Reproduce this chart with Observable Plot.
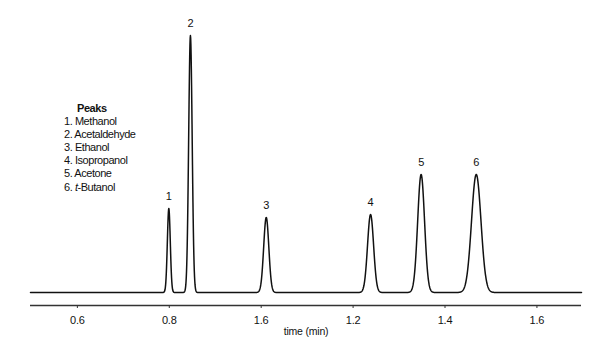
<!DOCTYPE html>
<html><head><meta charset="utf-8">
<script src="https://cdn.jsdelivr.net/npm/d3@7"></script>
<script src="https://cdn.jsdelivr.net/npm/@observablehq/plot@0.6"></script>
<style>
body{margin:0;background:#fff;}
#wrap{position:relative;width:611px;height:360px;font-family:"Liberation Sans Narrow","Arial Narrow","Liberation Sans",Arial,sans-serif;}
#legend{position:absolute;left:64px;top:102px;font-size:11px;line-height:13.1px;color:#111;letter-spacing:-0.45px;}
#legend .title{font-weight:bold;padding-left:13px;}
</style></head><body>
<div id="wrap"><div id="legend"></div></div>
<script>
// Peak data
const peakNumbers = ["1","2","3","4","5","6"];
const peakNames = ["Methanol","Acetaldehyde","Ethanol","Isopropanol","Acetone","t-Butanol"];
const retentionTimes = [0.799, 0.846, 1.011, 1.238, 1.348, 1.468];
const peakHeights = [84, 257, 75, 78, 118, 118];
const peakSigmas = [0.0032, 0.0038, 0.0056, 0.0066, 0.0075, 0.0103];
const tickValues = [0.6, 0.8, 1.0, 1.2, 1.4, 1.6];
const tickLabels = ["0.6", "0.8", "1.6", "1.2", "1.4", "1.6"];
const xLabel = "time (min)";
const legendTitle = "Peaks";
const timeDomain = [0.498, 1.697];
const intensityDomain = [-13, 257];

const fontFamily = '"Liberation Sans Narrow","Arial Narrow","Liberation Sans",Arial,sans-serif';

const peaks = peakNumbers.map((n, i) => ({n, name: peakNames[i], t: retentionTimes[i], h: peakHeights[i], s: peakSigmas[i]}));

// chromatogram trace as the sum of the peaks
const step = 0.0005;
const times = d3.range(timeDomain[0], timeDomain[1] + step / 2, step);
const trace = times.map(t => ({
  t,
  v: peaks.reduce((acc, p) => acc + p.h * Math.exp(-0.5 * ((t - p.t) / p.s) ** 2), 0)
}));

const chart = Plot.plot({
  width: 611,
  height: 360,
  marginLeft: 30,
  marginRight: 30,
  marginTop: 35,
  marginBottom: 55,
  x: {domain: timeDomain},
  y: {domain: intensityDomain, axis: null},
  style: {fontFamily, fontSize: "11px", color: "#111", background: "#fff", letterSpacing: "-0.2px"},
  marks: [
    Plot.ruleY([intensityDomain[0]], {stroke: "#333", strokeWidth: 1.6}),
    Plot.axisX(tickValues, {
      tickSize: 3,
      tickPadding: 8,
      stroke: "#333",
      fontSize: 11,
      label: null,
      tickFormat: d => tickLabels[tickValues.findIndex(v => Math.abs(v - d) < 1e-9)]
    }),
    Plot.text([xLabel], {frameAnchor: "bottom", dy: 29, fontSize: 10.5, fill: "#111"}),
    Plot.line(trace, {x: "t", y: "v", stroke: "#111", strokeWidth: 1.5}),
    Plot.text(peaks, {x: "t", y: "h", text: "n", dy: -12, fontSize: 11, fill: "#111"})
  ]
});
document.getElementById("wrap").appendChild(chart);

// legend
const legend = document.getElementById("legend");
const title = document.createElement("div");
title.className = "title";
title.textContent = legendTitle;
legend.appendChild(title);
peaks.forEach(p => {
  const row = document.createElement("div");
  row.append(p.n + ". ");
  if (p.name.startsWith("t-")) {
    const it = document.createElement("i");
    it.textContent = "t";
    row.append(it, p.name.slice(1));
  } else {
    row.append(p.name);
  }
  legend.appendChild(row);
});
</script>
</body></html>
